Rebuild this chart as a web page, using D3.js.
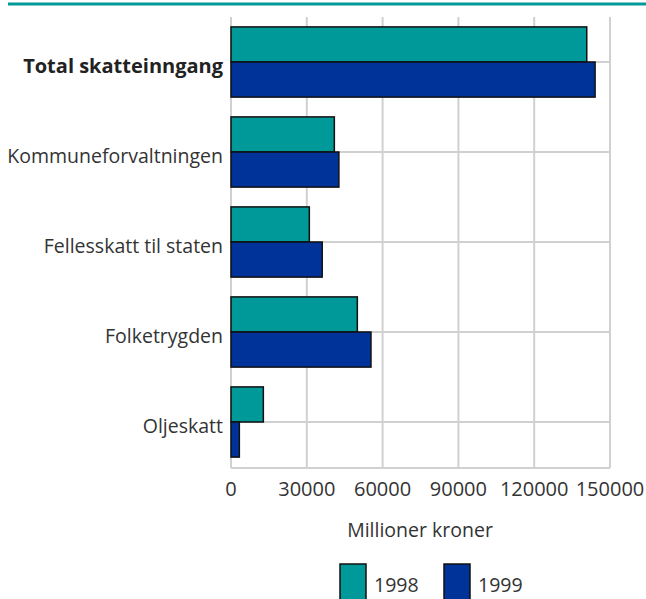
<!DOCTYPE html>
<html>
<head>
<meta charset="utf-8">
<script src="https://d3js.org/d3.v7.min.js"></script>
<style>
  body { margin: 0; background: #fff; }
  svg { display: block; font-family: "Open Sans", sans-serif; }
</style>
</head>
<body>
<svg id="chart" width="646" height="599"></svg>
<script>
var categories = ["Total skatteinngang", "Kommuneforvaltningen", "Fellesskatt til staten", "Folketrygden", "Oljeskatt"];
var years = ["1998", "1999"];
var values1998 = [140800, 40900, 31000, 50000, 12800];
var values1999 = [144100, 42700, 36100, 55400, 3300];
var xTicks = [0, 30000, 60000, 90000, 120000, 150000];
var colors = ["#009999", "#003399"];

var svg = d3.select("#chart");
var plotLeft = 231, plotRight = 610, plotTop = 17, plotBottom = 467;

// top rule
svg.append("line")
  .attr("x1", 8).attr("x2", 646).attr("y1", 4).attr("y2", 4)
  .attr("stroke", "#009999").attr("stroke-width", 3);

var x = d3.scaleLinear().domain([0, 150000]).range([plotLeft, plotRight]);
var y = d3.scaleBand().domain(categories).range([plotTop, plotBottom]).paddingInner(0.22).paddingOuter(0.11);
var yFull = d3.scaleBand().domain(categories).range([plotTop, plotBottom]);
var ySub = d3.scaleBand().domain(years).range([0, y.bandwidth()]);

var grid = svg.append("g");
// vertical gridlines
grid.selectAll("line.v").data(xTicks).enter().append("line")
  .attr("x1", function (d) { return x(d); }).attr("x2", function (d) { return x(d); })
  .attr("y1", plotTop).attr("y2", plotBottom + 1)
  .attr("stroke", "#d0d0d0").attr("stroke-width", 2);
// horizontal gridlines at category centres
grid.selectAll("line.h").data(categories).enter().append("line")
  .attr("x1", plotLeft).attr("x2", plotRight)
  .attr("y1", function (d) { return yFull(d) + yFull.bandwidth() / 2; })
  .attr("y2", function (d) { return yFull(d) + yFull.bandwidth() / 2; })
  .attr("stroke", "#d0d0d0").attr("stroke-width", 2);
// bottom axis line
grid.append("line")
  .attr("x1", plotLeft).attr("x2", plotRight).attr("y1", plotBottom + 1).attr("y2", plotBottom + 1)
  .attr("stroke", "#d0d0d0").attr("stroke-width", 2);

var series = [values1998, values1999];
series.forEach(function (vals, si) {
  svg.append("g").selectAll("rect").data(categories).enter().append("rect")
    .attr("x", x(0))
    .attr("y", function (d) { return y(d) + ySub(years[si]); })
    .attr("width", function (d, i) { return x(vals[i]) - x(0); })
    .attr("height", ySub.bandwidth())
    .attr("fill", colors[si])
    .attr("stroke", "#111").attr("stroke-width", 1.5);
});

// category labels
svg.append("g").selectAll("text").data(categories).enter().append("text")
  .attr("x", 223)
  .attr("y", function (d) { return yFull(d) + yFull.bandwidth() / 2 + 11; })
  .attr("text-anchor", "end")
  .attr("font-size", function (d, i) { return i === 0 ? 20 : 19.5; })
  .attr("font-weight", function (d, i) { return i === 0 ? "bold" : "normal"; })
  .attr("fill", function (d, i) { return i === 0 ? "#222" : "#333"; })
  .text(function (d) { return d; });

// x tick labels
svg.append("g").selectAll("text").data(xTicks).enter().append("text")
  .attr("x", function (d) { return x(d); })
  .attr("y", 496)
  .attr("text-anchor", "middle")
  .attr("font-size", 20).attr("fill", "#333")
  .text(function (d) { return d; });

svg.append("text")
  .attr("x", 420).attr("y", 537)
  .attr("text-anchor", "middle")
  .attr("font-size", 19.5).attr("fill", "#333")
  .text("Millioner kroner");

// legend
var legendX = [340, 444];
years.forEach(function (yr, i) {
  svg.append("rect")
    .attr("x", legendX[i]).attr("y", 564).attr("width", 26).attr("height", 40)
    .attr("fill", colors[i]).attr("stroke", "#111").attr("stroke-width", 1.5);
  svg.append("text")
    .attr("x", legendX[i] + 34).attr("y", 592)
    .attr("font-size", 19.5).attr("fill", "#333")
    .text(yr);
});
</script>
</body>
</html>
